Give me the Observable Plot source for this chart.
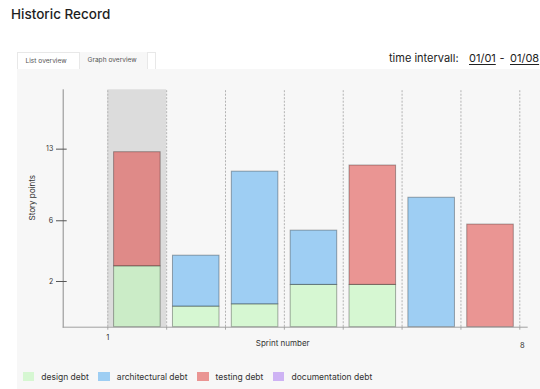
<!DOCTYPE html>
<html>
<head>
<meta charset="utf-8">
<script src="https://cdn.jsdelivr.net/npm/d3@7"></script>
<script src="https://cdn.jsdelivr.net/npm/@observablehq/plot@0.6"></script>
<style>
  html, body { margin: 0; padding: 0; background: #fff; }
  body { width: 540px; height: 389px; position: relative; overflow: hidden;
         font-family: Inter, "Open Sans", sans-serif; color: #222; }
  .abs { position: absolute; white-space: nowrap; }
  #title { left: 11px; top: 6px; font-size: 13.5px; font-weight: 500; line-height: 16px; color: #1e1e1e; }
  .tab { position: absolute; top: 52px; height: 17px; box-sizing: border-box;
         font-size: 6.6px; color: #555; line-height: 17px; white-space: nowrap; }
  #tab1 { left: 17px; width: 63px; background: #fff; border: 1px solid #e8e8e8; border-bottom: none; padding-left: 7.5px; }
  #tab2 { left: 80px; width: 67px; background: #f7f7f7; padding-left: 7.5px; }
  #tab3 { left: 147px; width: 9px; background: #fff; border: 1px solid #e8e8e8; border-bottom: none; }
  #panel { left: 17px; top: 69px; width: 523px; height: 320px; background: #f7f7f7; }
  #interval { top: 52px; font-size: 11px; line-height: 13px; color: #222; }
  #interval span { position: absolute; top: 0; }
  #interval .date { text-decoration: underline; text-underline-offset: 2px; }
  #chart { position: absolute; left: 0; top: 80px; }
  #legend { left: 22.7px; top: 371.5px; display: flex; align-items: center; font-size: 8.5px; color: #333; line-height: 10px; }
  #legend .sw { width: 11.6px; height: 9.3px; margin-right: 7px; }
  #legend .item { display: flex; align-items: center; margin-right: 9.5px; }
  svg g[aria-label^="x-axis"] { color: #a8a8a8; }
</style>
</head>
<body>
<div id="title" class="abs">Historic Record</div>
<div id="panel" class="abs"></div>
<div id="tab1" class="tab">List overview</div>
<div id="tab2" class="tab">Graph overview</div>
<div id="tab3" class="tab"></div>
<div id="interval" class="abs" style="left:0;width:540px;height:14px;">
  <span style="left:389px">time intervall:</span>
  <span class="date" style="left:469px">01/01</span>
  <span style="left:499.5px">-</span>
  <span class="date" style="left:510px">01/08</span>
</div>
<div id="chart"></div>
<div id="legend" class="abs"></div>

<script>
// Sprints and the story points of technical debt found in each one
const sprints = [1, 2, 3, 4, 5, 6, 7];
const designDebt        = [3.0, 0.9, 1.0, 1.85, 1.85, 0, 0];
const architecturalDebt = [0, 2.8, 9.8, 3.5, 0, 8.25, 0];
const testingDebt       = [9.7, 0, 0, 0, 9.55, 0, 5.75];
const documentationDebt = [0, 0, 0, 0, 0, 0, 0];

const debtTypes  = ["design debt", "architectural debt", "testing debt", "documentation debt"];
// base colours, drawn at 60% opacity on the light panel
const debtColors = ["#c0f7b9", "#63b3f0", "#e15450", "#b286f2"];
const debtOpacity = 0.6;

// story point ticks on the y axis and sprint boundaries on the x axis
const yTicks = [2, 6, 13];
const sprintBounds = [1, 2, 3, 4, 5, 6, 7, 8];
const xTickLabels = [1, 8];
const currentSprint = 1;

const series = [designDebt, architecturalDebt, testingDebt, documentationDebt];
const rows = [];
sprints.forEach((s, i) => {
  series.forEach((values, k) => {
    if (values[i] > 0) rows.push({sprint: s, debt: debtTypes[k], points: values[i]});
  });
});

// the story point axis is stretched piecewise between its ticks
const storyPointSpacing = d3.scaleLinear().domain([0, 2, 6, 13]).range([0, 45.7, 106.4, 178]);
const yTop = 18.8;
const width = 540, height = 275;

const chart = Plot.plot({
  width, height,
  marginLeft: 62.7, marginRight: 12.3, marginTop: 9.3, marginBottom: 28.3,
  style: {background: "transparent", fontFamily: "Inter, 'Open Sans', sans-serif", fontSize: "7px", overflow: "visible"},
  x: {domain: [1, 8], range: [107.3, 519.3], ticks: sprintBounds, tickSize: 3, tickFormat: () => "", label: null},
  y: {transform: storyPointSpacing, domain: [0, storyPointSpacing(yTop)], range: [246.7, 9.3], axis: null},
  color: {domain: debtTypes, range: debtColors},
  marks: [
    // current sprint highlight
    Plot.rect([currentSprint], {x1: d => d, x2: d => d + 1, y1: 0, y2: yTop, fill: "#dcdcdc"}),
    // sprint dividers
    Plot.ruleX(sprintBounds, {y1: 0, y2: yTop, stroke: "#b3b3b3", strokeWidth: 1, strokeDasharray: "2,1.5"}),
    // stacked debt per sprint
    Plot.rectY(rows, {
      x1: "sprint", x2: d => d.sprint + 1, y: "points", fill: "debt",
      fillOpacity: debtOpacity, stroke: "#000", strokeOpacity: 0.32, strokeWidth: 1,
      insetLeft: 6.3, insetRight: 6
    }),
    // axis lines
    Plot.frame({anchor: "left", stroke: "#8c8c8c"}),
    Plot.ruleY([0], {stroke: "#a0a0a0", strokeWidth: 1}),
    // y ticks crossing the axis line, and their labels
    Plot.ruleY(yTicks, {stroke: "#555", strokeWidth: 1, insetLeft: -6.7, insetRight: (width - 12.3) - 66.7}),
    Plot.text(yTicks, {y: d => d, text: d => String(d), frameAnchor: "left", textAnchor: "end", dx: -10, fill: "#333", fontSize: 7}),
    // x tick labels
    Plot.text(xTickLabels.slice(0, 1), {x: d => d, y: 0, text: d => String(d), dy: 10.5, fill: "#333", fontSize: 7.5}),
    Plot.text(xTickLabels.slice(1), {x: d => d, y: 0, text: d => String(d), dy: 18.5, dx: 2.5, fill: "#333", fontSize: 7.5}),
    // axis titles
    Plot.text(["Sprint number"], {frameAnchor: "bottom", text: d => d, dx: -13, dy: 18.5, fill: "#333", fontSize: 8}),
    Plot.text(["Story points"], {frameAnchor: "left", text: d => d, rotate: -90, dx: -30.4, dy: 12, fill: "#333", fontSize: 8})
  ]
});
document.getElementById("chart").appendChild(chart);

// legend
const legend = document.getElementById("legend");
debtTypes.forEach((name, i) => {
  const item = document.createElement("div");
  item.className = "item";
  const sw = document.createElement("div");
  sw.className = "sw";
  sw.style.background = debtColors[i];
  sw.style.opacity = debtOpacity;
  const label = document.createElement("span");
  label.textContent = name;
  item.appendChild(sw);
  item.appendChild(label);
  legend.appendChild(item);
});
</script>
</body>
</html>
